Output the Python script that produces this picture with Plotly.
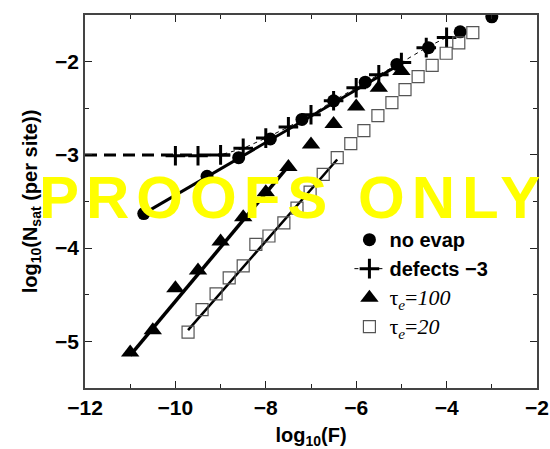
import plotly.graph_objects as go

# Saturation island density vs deposition flux (log-log)
x_noevap = [-10.7, -9.3, -8.6, -7.9, -7.2, -6.5, -5.8, -5.1, -4.4, -3.7, -3.0]
y_noevap = [-3.63, -3.23, -3.03, -2.83, -2.62, -2.42, -2.22, -2.03, -1.85, -1.68, -1.52]

x_defects = [-10.0, -9.5, -9.0, -8.5, -8.0, -7.5, -7.0, -6.5, -6.0, -5.5, -5.0, -4.45, -4.0]
y_defects = [-3.01, -3.01, -3.00, -2.93, -2.82, -2.70, -2.57, -2.42, -2.28, -2.14, -2.01, -1.85, -1.74]

x_tau100 = [-11.0, -10.5, -10.0, -9.5, -9.0, -8.5, -8.0, -7.5, -7.0, -6.5, -6.0, -5.5, -5.0]
y_tau100 = [-5.12, -4.88, -4.43, -4.24, -3.93, -3.67, -3.40, -3.13, -2.89, -2.67, -2.48, -2.28, -2.10]

x_tau20 = [-9.72, -9.41, -9.10, -8.81, -8.50, -8.22, -7.93, -7.60, -7.31, -7.02, -6.73,
           -6.42, -6.12, -5.83, -5.52, -5.21, -4.92, -4.63, -4.32, -4.01, -3.73, -3.42]
y_tau20 = [-4.90, -4.66, -4.49, -4.32, -4.19, -3.96, -3.87, -3.73, -3.57, -3.40, -3.21,
           -3.03, -2.88, -2.74, -2.58, -2.44, -2.30, -2.16, -2.04, -1.91, -1.80, -1.69]

# straight-line fits (end points) and the defect plateau
fit_noevap_x = [-10.7, -5.0]
fit_noevap_y = [-3.63, -2.02]
fit_tau100_x = [-11.0, -7.5]
fit_tau100_y = [-5.15, -3.12]
fit_tau20_x = [-9.72, -6.42]
fit_tau20_y = [-4.88, -3.05]
plateau_x = [-12.0, -8.6]
plateau_y = [-3.0, -3.0]

x_ticks = [-12, -10, -8, -6, -4, -2]
x_ticklabels = ["<b>\u221212</b>", "<b>\u221210</b>", "<b>\u22128</b>", "<b>\u22126</b>",
                "<b>\u22124</b>", "<b>\u22122</b>"]
y_ticks = [-5, -4, -3, -2]
y_ticklabels = ["<b>\u22125</b>", "<b>\u22124</b>", "<b>\u22123</b>", "<b>\u22122</b>"]

serif = "font-family:Liberation Serif;font-weight:normal;font-size:22px"
name_noevap = "<b>no evap</b>"
name_defects = "<b>defects \u22123</b>"
name_tau100 = f"<span style='{serif}'>\u03c4<sub><i>e</i></sub>=<i>100</i></span>"
name_tau20 = f"<span style='{serif}'>\u03c4<sub><i>e</i></sub>=<i>20</i></span>"

fig = go.Figure()

fig.add_trace(go.Scatter(x=plateau_x, y=plateau_y, mode="lines",
                         line=dict(color="black", width=3, dash="12px,7px"),
                         showlegend=False, hoverinfo="skip"))
fig.add_trace(go.Scatter(x=fit_noevap_x, y=fit_noevap_y, mode="lines",
                         line=dict(color="black", width=3), showlegend=False))
fig.add_trace(go.Scatter(x=fit_tau100_x, y=fit_tau100_y, mode="lines",
                         line=dict(color="black", width=3.5), showlegend=False))
fig.add_trace(go.Scatter(x=fit_tau20_x, y=fit_tau20_y, mode="lines",
                         line=dict(color="black", width=2.5), showlegend=False))

fig.add_trace(go.Scatter(x=x_noevap, y=y_noevap, mode="markers", name=name_noevap,
                         marker=dict(symbol="circle", size=13, color="black")))
fig.add_trace(go.Scatter(x=x_defects, y=y_defects, mode="lines+markers", name=name_defects,
                         line=dict(color="black", width=1, dash="4px,4px"),
                         marker=dict(symbol="cross-thin", size=14,
                                     line=dict(color="black", width=3))))
fig.add_trace(go.Scatter(x=x_tau100, y=y_tau100, mode="markers", name=name_tau100,
                         marker=dict(symbol="triangle-up", size=16, color="black")))
fig.add_trace(go.Scatter(x=x_tau20, y=y_tau20, mode="markers", name=name_tau20,
                         marker=dict(symbol="square-open", size=12, color="#555555",
                                     line=dict(width=1.2))))

axis_common = dict(showline=True, linecolor="#444444", linewidth=1.5, mirror="ticks",
                   ticks="inside", ticklen=7, tickcolor="#222222", tickwidth=1.2,
                   showgrid=False, zeroline=False, automargin=False,
                   tickfont=dict(family="Liberation Sans", size=21, color="black"))

fig.update_layout(
    width=550, height=449,
    margin=dict(l=85, r=13, t=15, b=61),
    paper_bgcolor="white", plot_bgcolor="white",
    font=dict(family="Liberation Sans", color="black"),
    xaxis=dict(range=[-12, -2], tickvals=x_ticks, ticktext=x_ticklabels,
               minor=dict(dtick=1, ticks="inside", ticklen=4, tickcolor="#222222"),
               title=dict(text="<b>log<sub>10</sub>(F)</b>", standoff=10,
                          font=dict(size=20, family="Liberation Sans")),
               **axis_common),
    yaxis=dict(range=[-5.5, -1.5], tickvals=y_ticks, ticktext=y_ticklabels,
               minor=dict(dtick=0.5, ticks="inside", ticklen=4, tickcolor="#222222"),
               title=dict(text="<b>log<sub>10</sub>(N<sub>sat</sub> (per site))</b>", standoff=12,
                          font=dict(size=20, family="Liberation Sans")),
               **axis_common),
    legend=dict(x=0.585, y=0.45, xanchor="left", yanchor="top",
                bgcolor="rgba(0,0,0,0)", borderwidth=0, tracegroupgap=0,
                font=dict(family="Liberation Sans", size=20, color="black"),
                itemwidth=30),
)

# overlay stamp
fig.add_annotation(text="<span style='letter-spacing:7px'><b>PROOFS ONLY</b></span>",
                   xref="paper", yref="paper", x=0.46, y=0.51, showarrow=False,
                   font=dict(family="Liberation Sans", size=60, color="#FFFF00"))

fig.write_html("out.html")
